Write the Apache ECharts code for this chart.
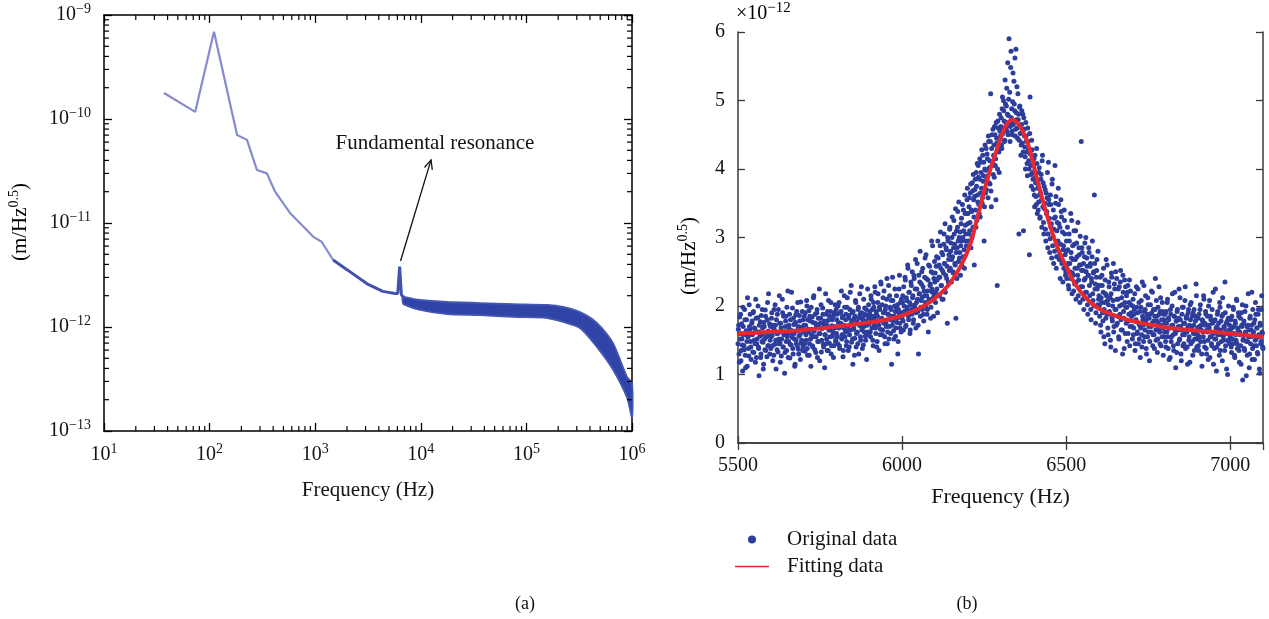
<!DOCTYPE html>
<html><head><meta charset="utf-8">
<script src="https://cdn.jsdelivr.net/npm/echarts@6/dist/echarts.min.js"></script>
<style>html,body{margin:0;padding:0;background:#fff}#c{width:1269px;height:619px}</style>
</head><body><div id="c"></div>
<script>
// ===== (a) Displacement noise spectrum =====
const psdLowFreq = [37, 73, 110, 182, 226, 281, 349, 417, 577, 955, 1150, 1290, 1480];
const psdLowVal  = [1.78e-10, 1.17e-10, 6.9e-10, 7.0e-11, 6.3e-11, 3.23e-11, 3.0e-11, 2.0e-11, 1.25e-11, 7.4e-12, 6.6e-12, 5.5e-12, 4.4e-12];
const psdMidFreq = [1480, 2000, 3100, 4370, 5700, 6050, 6300, 6550, 6760];
const psdMidVal  = [4.4e-12, 3.56e-12, 2.6e-12, 2.2e-12, 2.1e-12, 2.1e-12, 3.8e-12, 2.05e-12, 1.94e-12];
const bandFreq  = [6760, 7080, 9820, 17700, 36400, 74700, 157000, 222000, 322000, 467000, 660000, 897000, 1000000];
const bandUpper = [1.98e-12, 1.94e-12, 1.82e-12, 1.74e-12, 1.70e-12, 1.66e-12, 1.63e-12, 1.56e-12, 1.39e-12, 1.09e-12, 7.0e-13, 3.3e-13, 2.9e-13];
const bandLower = [1.70e-12, 1.63e-12, 1.46e-12, 1.33e-12, 1.30e-12, 1.25e-12, 1.22e-12, 1.12e-12, 9.8e-13, 6.4e-13, 3.9e-13, 2.1e-13, 1.36e-13];
const annotText = 'Fundamental resonance';
const annotTextAt = [13600, 5.87e-11];
const annotArrowFrom = [6430, 4.31e-12];
const annotArrowTo = [12500, 4.04e-11];
const leftXRange = [10, 1e6];
const leftYRange = [1e-13, 1e-9];

// ===== (b) Resonance peak and fit =====
const scatterStartFreqA = 5500;
const scatterStartFreqB = 5501;
const scatterStepHz = 2;
const scatterValsA = [
// 5500
1.45,1.72,1.18,1.60,1.88,1.35,1.52,1.05,1.70,1.42,1.95,1.28,1.62,1.80,1.12,1.55,1.38,2.02,1.66,1.48,1.22,1.75,1.58,1.90,1.32,1.68,1.45,2.10,1.25,1.52,1.83,1.40,0.98,1.62,1.77,1.30,1.58,1.95,1.47,1.15,1.70,1.36,1.85,1.55,1.26,2.05,1.63,1.42,1.74,1.50,
// 5600
1.38,1.82,1.57,1.20,1.68,1.95,1.44,1.72,1.08,1.60,1.88,1.33,1.52,2.15,1.46,1.75,1.27,1.62,1.90,1.40,1.58,1.02,1.70,1.85,1.35,1.55,2.22,1.48,1.66,1.24,1.80,1.43,1.60,1.97,1.30,1.73,1.52,1.15,1.87,1.45,1.64,2.05,1.37,1.56,1.78,1.22,1.69,1.50,1.92,1.41,
// 5700
1.62,1.85,1.34,1.72,1.50,2.00,1.28,1.66,1.93,1.45,1.78,1.12,1.58,1.84,1.40,2.12,1.63,1.36,1.75,1.55,1.90,1.25,1.70,1.48,2.25,1.60,1.82,1.33,1.67,1.97,1.44,1.74,1.10,1.58,1.88,1.52,1.35,1.79,2.08,1.46,1.65,1.92,1.30,1.71,1.56,1.85,1.42,1.68,2.02,1.50,
// 5800
1.60,1.88,1.45,1.76,2.05,1.38,1.70,1.92,1.52,1.83,1.26,1.68,2.15,1.55,1.80,1.42,1.98,1.64,1.35,1.86,1.58,2.20,1.74,1.47,1.90,1.15,1.66,1.82,1.53,2.08,1.40,1.77,1.62,1.95,1.30,1.72,1.88,1.50,2.28,1.65,1.83,1.43,1.70,1.97,1.56,1.78,1.22,1.86,1.62,2.02,
// 5900
1.74,1.92,1.55,2.10,1.68,1.85,1.42,1.98,1.72,2.20,1.60,1.88,1.48,2.05,1.78,1.35,1.95,1.66,2.32,1.82,1.58,2.12,1.75,1.90,1.45,2.00,1.70,2.40,1.62,1.88,1.52,2.15,1.80,1.95,1.15,1.72,2.08,1.64,1.85,2.25,1.56,1.98,1.76,2.02,1.48,1.90,2.45,1.68,1.84,2.10,
// 6000
1.82,2.15,1.65,2.00,1.90,2.38,1.72,2.08,1.95,2.55,1.80,2.20,1.60,2.02,2.30,1.88,2.12,1.75,2.45,1.98,2.25,1.68,2.05,2.62,1.92,1.30,2.18,2.35,1.85,2.08,2.50,1.95,2.28,1.78,2.15,2.70,2.00,2.40,1.88,2.22,1.62,2.10,2.58,2.32,1.98,2.95,2.20,2.48,1.85,2.15,
// 6100
2.35,2.05,2.58,2.25,1.90,2.70,2.42,2.15,2.88,2.55,2.30,2.10,2.75,2.48,3.05,2.62,2.20,2.85,2.40,1.75,2.95,2.68,2.52,3.15,2.80,2.35,3.00,2.72,2.48,3.25,2.90,2.60,1.82,3.10,2.85,3.38,2.65,3.00,2.78,2.45,3.20,2.95,3.48,2.72,3.10,2.55,3.35,3.05,2.88,3.55,
// 6200
3.20,2.95,3.45,3.10,3.65,2.85,3.38,3.80,3.15,3.55,2.60,3.70,3.40,3.95,3.25,3.62,4.05,3.48,3.85,3.30,4.10,3.72,3.50,4.20,3.90,2.95,4.00,3.65,4.30,3.85,4.15,3.58,4.40,4.02,3.78,5.10,3.45,4.50,4.10,3.92,4.35,4.62,4.05,3.55,4.45,2.30,4.70,4.30,3.95,4.55,
// 6300
4.48,4.75,4.30,5.05,4.60,4.85,4.40,5.30,4.68,4.92,4.55,5.55,4.78,5.90,5.12,4.62,5.72,4.88,4.50,5.40,4.70,4.95,5.62,4.58,4.82,5.20,4.45,4.72,3.05,4.90,4.52,4.20,4.65,4.38,4.80,3.10,4.58,4.32,4.00,4.48,4.25,3.90,4.40,4.12,2.75,5.05,4.05,3.75,4.28,3.95,
// 6400
3.70,4.15,3.45,3.88,3.60,4.30,3.35,3.78,3.52,4.02,3.28,3.65,3.92,3.15,4.20,3.80,3.05,3.42,3.70,2.95,3.35,3.58,2.85,4.10,3.48,2.78,3.62,3.15,2.70,3.85,3.02,2.62,3.28,4.05,3.50,2.55,3.10,2.82,3.72,3.20,2.75,2.40,3.55,3.30,2.65,2.35,2.88,3.40,3.05,2.45,
// 6500
2.80,2.40,3.15,2.62,2.25,2.95,2.50,3.35,2.70,2.18,2.88,2.45,3.10,2.32,2.68,2.10,2.92,2.55,3.22,2.38,2.75,2.05,2.60,4.40,2.85,2.28,2.52,1.95,2.72,2.40,3.00,2.20,2.58,1.88,2.45,2.78,2.15,2.62,1.80,2.35,2.95,2.08,2.50,3.62,2.25,1.75,2.42,2.68,2.02,2.30,
// 6600
2.15,1.85,2.42,1.62,2.05,2.30,1.78,2.55,1.95,1.45,2.18,2.68,1.88,2.08,1.58,2.35,1.92,2.12,1.40,2.48,1.82,2.00,2.62,1.70,2.25,1.35,1.95,2.40,1.75,2.10,1.55,2.28,1.88,2.52,1.65,2.02,1.30,2.20,1.82,2.38,1.60,1.98,2.15,1.48,2.30,1.78,2.05,1.42,2.22,1.90,
// 6700
1.85,1.52,2.10,1.68,1.95,1.35,1.78,2.28,1.60,1.90,1.45,2.05,1.72,1.25,1.98,1.58,2.35,1.80,1.48,1.92,1.65,2.15,1.38,1.82,1.55,2.02,1.70,1.20,1.88,1.62,2.22,1.75,1.42,1.95,1.58,1.85,2.40,1.50,1.78,1.32,1.98,1.65,1.88,1.45,2.12,1.72,1.55,1.92,1.28,1.80,
// 6800
1.62,1.88,1.40,1.75,2.05,1.55,1.82,1.22,1.68,1.95,1.48,1.72,2.18,1.58,1.35,1.85,1.65,1.10,1.78,1.92,1.45,1.70,2.25,1.52,1.80,1.30,1.65,1.98,1.42,1.75,1.58,2.08,1.38,1.82,1.62,1.15,1.90,1.50,1.72,2.02,1.45,1.68,1.85,1.28,1.60,1.95,1.52,1.78,2.32,1.40,
// 6900
1.58,1.82,1.35,1.70,1.95,1.48,1.65,1.12,1.78,1.55,2.10,1.40,1.72,1.88,1.30,1.62,1.50,2.00,1.68,1.25,1.85,1.55,1.42,1.75,2.20,1.60,1.38,1.80,1.52,1.05,1.70,1.92,1.45,1.65,2.05,1.35,1.78,1.58,1.20,1.88,1.50,1.68,2.35,1.42,1.75,1.60,1.00,1.82,1.48,1.72,
// 7000
1.55,1.80,1.32,1.68,1.45,1.95,1.60,1.25,1.75,1.50,2.08,1.38,1.65,1.85,1.18,1.58,1.42,1.90,1.70,0.92,1.52,1.78,1.35,1.62,2.00,1.48,1.28,1.72,1.55,1.10,1.82,1.45,1.65,2.20,1.38,1.58,1.75,1.22,1.50,1.88,1.42,1.68,1.30,1.95,1.55,1.02,1.72,1.48,2.15,1.60,1.38
];
const scatterValsB = [
// 5501
1.66,1.30,1.84,1.52,1.20,1.74,1.43,1.98,1.58,1.36,1.80,1.10,1.64,1.48,2.12,1.55,1.27,1.70,1.88,1.40,1.60,1.78,1.33,1.92,1.50,1.67,1.18,1.82,1.45,1.62,2.00,1.38,1.72,1.56,1.25,1.86,1.48,1.68,1.08,1.76,1.52,1.94,1.35,1.60,1.80,1.42,2.18,1.57,1.30,1.70,
// 5601
1.55,1.90,1.42,1.72,1.28,1.65,2.02,1.50,1.80,1.36,1.60,1.95,1.45,1.75,1.18,1.68,1.52,2.10,1.40,1.85,1.62,1.32,1.78,1.48,1.98,1.58,1.25,1.72,1.88,1.44,1.65,2.20,1.54,1.38,1.82,1.60,1.12,1.76,1.50,1.92,1.42,1.70,1.30,1.86,1.58,2.06,1.46,1.66,1.35,1.80,
// 5701
1.72,1.45,1.90,1.58,2.08,1.38,1.80,1.62,1.28,1.85,1.52,1.98,1.66,1.42,1.76,2.15,1.55,1.88,1.32,1.70,1.95,1.48,1.82,1.60,1.20,1.75,2.02,1.50,1.68,1.88,1.40,1.78,1.58,2.18,1.45,1.72,1.92,1.35,1.65,1.85,1.55,2.05,1.42,1.80,1.62,1.25,1.90,1.70,1.48,1.95,
// 5801
1.80,1.55,2.00,1.68,1.42,1.90,1.75,2.22,1.58,1.85,1.35,1.72,1.98,1.62,1.88,1.48,2.12,1.70,1.82,1.40,1.95,1.65,2.30,1.78,1.52,1.92,1.68,1.28,1.85,2.05,1.60,1.75,1.45,1.98,1.82,2.18,1.55,1.70,1.90,1.38,1.78,2.10,1.62,1.88,1.50,1.95,1.72,2.25,1.58,1.82,
// 5901
1.88,1.62,2.15,1.78,1.95,1.50,2.05,1.82,2.28,1.68,1.92,1.40,1.85,2.18,1.72,1.98,1.58,2.35,1.80,2.02,1.65,1.90,2.22,1.55,1.95,1.75,2.10,1.45,1.88,2.30,1.70,1.98,1.60,2.08,1.85,2.42,1.78,1.52,2.00,1.92,1.68,2.15,1.82,1.30,1.95,2.25,1.75,2.05,1.62,1.90,
// 6001
2.05,1.78,2.28,1.92,2.42,1.70,2.12,1.98,2.60,1.85,2.20,2.05,1.65,2.35,1.95,2.50,2.15,1.80,2.40,2.02,2.68,1.90,2.25,2.10,1.72,2.45,2.18,2.80,1.98,2.32,2.12,2.55,1.88,2.22,2.42,2.05,2.75,2.15,1.95,2.38,2.60,2.08,2.30,1.82,2.50,2.25,2.88,2.12,2.40,2.65,
// 6101
2.48,2.20,2.72,2.38,2.95,2.15,2.60,2.42,3.08,2.30,2.78,2.52,2.10,2.90,2.62,3.20,2.45,2.82,2.58,3.00,2.35,2.75,3.12,2.55,2.92,2.68,3.30,2.50,2.85,3.05,2.62,3.42,2.78,2.40,3.15,2.95,3.52,2.70,3.08,2.88,3.28,2.58,3.00,3.40,2.82,3.62,3.18,2.95,3.35,3.72,
// 6201
3.35,3.05,3.58,3.22,3.78,3.40,3.00,3.68,3.92,3.30,3.60,3.85,3.15,3.75,4.08,3.52,3.88,3.35,4.15,3.65,3.95,4.28,3.58,3.82,4.10,3.45,4.35,3.98,3.70,4.22,3.90,4.48,3.80,4.12,4.40,3.68,4.30,4.05,4.58,4.20,3.88,4.50,4.15,4.68,4.38,4.00,4.60,4.25,4.80,4.45,
// 6301
4.62,4.35,4.88,4.52,5.00,4.70,4.42,4.95,4.60,5.18,4.80,4.50,5.02,4.68,4.40,5.48,4.75,4.55,4.98,4.65,5.28,4.85,4.48,5.75,4.72,4.60,5.10,4.80,4.42,4.92,4.62,4.35,4.85,4.55,4.25,4.75,4.48,4.18,4.68,4.40,4.08,4.60,4.30,4.00,4.52,4.22,3.92,4.42,4.12,3.85,
// 6401
3.95,3.62,4.20,3.80,3.48,4.08,3.72,3.40,3.95,3.62,3.30,3.85,3.55,4.12,3.45,3.22,3.75,3.50,3.12,3.65,3.38,3.95,3.05,3.55,3.28,2.98,3.48,3.20,3.78,2.88,3.40,3.12,2.80,3.30,3.60,2.72,3.22,2.95,3.48,2.68,3.15,2.90,3.38,2.62,3.08,2.82,2.55,3.25,2.75,2.50,
// 6501
2.95,2.55,2.82,2.30,3.05,2.62,2.40,2.78,3.25,2.48,2.68,2.22,2.90,2.55,3.10,2.35,2.72,2.45,2.15,2.85,2.60,3.02,2.28,2.52,2.78,2.10,2.62,2.38,2.92,2.20,2.50,2.70,2.02,2.45,2.85,2.30,2.58,1.95,2.40,2.72,2.18,2.48,2.00,2.62,2.32,1.90,2.52,2.25,2.80,2.10,
// 6601
2.00,2.30,1.72,2.12,2.45,1.90,2.20,1.55,2.05,2.38,1.82,2.15,2.60,1.68,2.02,2.28,1.88,1.50,2.18,2.42,1.78,2.08,1.62,2.32,1.95,2.50,1.72,2.10,1.85,2.25,1.52,2.00,2.35,1.80,2.12,1.65,2.45,1.92,1.38,2.05,2.28,1.75,1.98,2.20,1.60,1.88,2.38,1.70,2.02,1.85,
// 6701
1.70,2.00,1.58,1.88,2.18,1.45,1.80,1.98,1.62,2.25,1.75,1.52,1.92,1.68,2.08,1.40,1.85,1.72,2.30,1.55,1.95,1.78,1.30,1.88,2.12,1.62,1.82,1.48,2.02,1.70,1.90,2.20,1.58,1.78,1.38,1.95,1.65,2.08,1.85,1.52,1.75,2.28,1.62,1.92,1.42,1.80,2.05,1.68,1.88,1.55,
// 6801
1.75,1.48,1.92,1.62,2.10,1.38,1.80,1.68,1.25,1.88,1.55,2.00,1.72,1.42,1.85,2.20,1.60,1.78,1.32,1.95,1.65,1.82,1.50,2.12,1.70,1.20,1.88,1.58,1.98,1.45,1.75,2.28,1.62,1.85,1.40,1.70,1.95,1.55,1.18,1.80,2.05,1.65,1.48,1.90,1.72,1.35,1.85,1.60,2.15,1.52,
// 6901
1.68,1.42,1.88,1.55,2.02,1.72,1.30,1.80,1.62,2.15,1.48,1.75,1.92,1.38,1.65,1.85,1.22,1.72,2.08,1.55,1.80,1.45,1.95,1.62,1.15,1.78,1.52,2.25,1.68,1.40,1.88,1.58,1.75,1.28,1.98,1.65,1.48,1.85,2.12,1.55,1.70,1.35,1.90,1.62,1.08,1.78,1.50,2.00,1.65,1.45,
// 7001
1.62,1.40,1.85,1.52,1.98,1.70,1.28,1.78,1.58,2.10,1.45,1.68,1.90,1.35,1.62,1.82,1.15,1.72,2.02,1.50,1.75,1.38,1.92,1.60,0.98,1.70,1.48,2.18,1.65,1.30,1.85,1.55,1.72,1.22,1.95,1.62,1.42,1.80,2.05,1.52,1.68,1.32,1.88,1.58,1.08,1.75,1.45,1.95,1.62,1.40
];
const fitFreq = [5500,5600,5700,5800,5900,5950,6000,6050,6100,6150,6200,6230,6260,6290,6315,6336,6355,6380,6410,6440,6470,6500,6525,6560,6600,6650,6700,6800,6900,7000,7100];
const fitVal  = [1.60,1.62,1.65,1.70,1.76,1.80,1.86,1.96,2.11,2.36,2.80,3.30,3.85,4.30,4.62,4.72,4.65,4.42,3.88,3.35,2.90,2.58,2.34,2.12,1.96,1.86,1.78,1.69,1.64,1.60,1.55];
const rightXRange = [5500, 7100, 500];
const rightYRange = [0, 6, 1];
const legendNames = ['Original data', 'Fitting data'];

// ===== Rendering =====
const FONT = '"Liberation Serif", "Times New Roman", serif';
const TXT = '#141414';
function rich(size, supSize, lift) {
  return {
    b: { fontFamily: FONT, fontSize: size, color: TXT },
    s: { fontFamily: FONT, fontSize: supSize, color: TXT, padding: [0, 0, lift, 0] }
  };
}
function pow10Label(v) {
  const e = Math.round(Math.log10(v));
  return '{b|10}{s|' + (e < 0 ? '\u2212' + (-e) : e) + '}';
}
const minorX = [], minorY = [];
for (let n = 1; n <= 5; n++) for (let k = 2; k <= 9; k++) minorX.push(k * Math.pow(10, n));
for (let n = -13; n <= -10; n++) for (let k = 2; k <= 9; k++) minorY.push(k * Math.pow(10, n));

const axisBlack = { lineStyle: { color: '#000', width: 1.5 } };
const axisGray = { lineStyle: { color: '#3a3a3a', width: 1.5 } };
const tickBlack = { inside: true, length: 8, lineStyle: { color: '#000', width: 1.3 } };
const tickGray = { inside: true, length: 7, lineStyle: { color: '#3a3a3a', width: 1.3 } };

const chart = echarts.init(document.getElementById('c'));
const option = {
  animation: false,
  backgroundColor: '#fff',
  grid: [
    { left: 104, top: 15, width: 528, height: 416 },
    { left: 738, top: 32, width: 525, height: 411 }
  ],
  xAxis: [
    { type: 'log', logBase: 10, gridIndex: 0, min: leftXRange[0], max: leftXRange[1],
      axisLine: axisBlack, axisTick: tickBlack,
      axisLabel: { formatter: pow10Label, rich: rich(20, 14, 12), margin: 11 }, splitLine: { show: false },
      name: 'Frequency (Hz)', nameLocation: 'middle', nameGap: 49,
      nameTextStyle: { fontFamily: FONT, fontSize: 21, color: TXT } },
    { type: 'log', logBase: 10, gridIndex: 0, position: 'top', min: leftXRange[0], max: leftXRange[1],
      axisLine: axisBlack, axisTick: tickBlack, axisLabel: { show: false }, splitLine: { show: false } },
    { type: 'value', gridIndex: 1, min: rightXRange[0], max: rightXRange[1], interval: rightXRange[2],
      axisLine: axisGray, axisTick: tickGray,
      axisLabel: { fontFamily: FONT, fontSize: 20, color: TXT, margin: 13, showMaxLabel: false, formatter: v => String(v) },
      splitLine: { show: false },
      name: 'Frequency (Hz)', nameLocation: 'middle', nameGap: 43,
      nameTextStyle: { fontFamily: FONT, fontSize: 22, color: TXT } },
    { type: 'value', gridIndex: 1, position: 'top', min: rightXRange[0], max: rightXRange[1], interval: rightXRange[2],
      axisLine: axisGray, axisTick: tickGray, axisLabel: { show: false }, splitLine: { show: false } }
  ],
  yAxis: [
    { type: 'log', logBase: 10, gridIndex: 0, min: leftYRange[0], max: leftYRange[1],
      axisLine: axisBlack, axisTick: tickBlack,
      axisLabel: { formatter: pow10Label, rich: rich(20, 14, 12), margin: 13 }, splitLine: { show: false } },
    { type: 'log', logBase: 10, gridIndex: 0, position: 'right', min: leftYRange[0], max: leftYRange[1],
      axisLine: axisBlack, axisTick: tickBlack, axisLabel: { show: false }, splitLine: { show: false } },
    { type: 'value', gridIndex: 1, min: rightYRange[0], max: rightYRange[1], interval: rightYRange[2],
      axisLine: axisGray, axisTick: tickGray,
      axisLabel: { fontFamily: FONT, fontSize: 20, color: TXT, margin: 13 }, splitLine: { show: false } },
    { type: 'value', gridIndex: 1, position: 'right', min: rightYRange[0], max: rightYRange[1], interval: rightYRange[2],
      axisLine: axisGray, axisTick: tickGray, axisLabel: { show: false }, splitLine: { show: false } }
  ],
  legend: {
    orient: 'vertical', left: 730, top: 524, itemWidth: 34, itemHeight: 8, itemGap: 6,
    selectedMode: false,
    data: [
      { name: legendNames[0], icon: 'circle' },
      { name: legendNames[1], icon: 'path://M0,0H34V1.7H0Z' }
    ],
    textStyle: { fontFamily: FONT, fontSize: 21, color: TXT, lineHeight: 20, padding: [0, 0, 0, 13] }
  },
  series: [
    { type: 'custom', xAxisIndex: 0, yAxisIndex: 0, silent: true, z: 5,
      data: minorX.map(v => [v, leftYRange[0]]),
      renderItem: (p, api) => {
        const v = api.value(0);
        const b = api.coord([v, leftYRange[0]]), t = api.coord([v, leftYRange[1]]);
        const st = { stroke: '#000', lineWidth: 1.2 };
        return { type: 'group', children: [
          { type: 'line', shape: { x1: b[0], y1: b[1], x2: b[0], y2: b[1] - 5 }, style: st },
          { type: 'line', shape: { x1: t[0], y1: t[1], x2: t[0], y2: t[1] + 5 }, style: st } ] };
      } },
    { type: 'custom', xAxisIndex: 0, yAxisIndex: 0, silent: true, z: 5,
      data: minorY.map(v => [leftXRange[0], v]),
      renderItem: (p, api) => {
        const v = api.value(1);
        const l = api.coord([leftXRange[0], v]), r = api.coord([leftXRange[1], v]);
        const st = { stroke: '#000', lineWidth: 1.2 };
        return { type: 'group', children: [
          { type: 'line', shape: { x1: l[0], y1: l[1], x2: l[0] + 5, y2: l[1] }, style: st },
          { type: 'line', shape: { x1: r[0], y1: r[1], x2: r[0] - 5, y2: r[1] }, style: st } ] };
      } },
    { name: 'psd-low', type: 'line', xAxisIndex: 0, yAxisIndex: 0, symbol: 'none', silent: true,
      data: psdLowFreq.map((f, i) => [f, psdLowVal[i]]),
      lineStyle: { color: '#868bcf', width: 2.2 } },
    { name: 'psd-mid', type: 'line', xAxisIndex: 0, yAxisIndex: 0, symbol: 'none', silent: true,
      data: psdMidFreq.map((f, i) => [f, psdMidVal[i]]),
      lineStyle: { color: '#4152b0', width: 3 } },
    { name: 'psd-band', type: 'custom', xAxisIndex: 0, yAxisIndex: 0, silent: true,
      data: [[bandFreq[0], bandUpper[0]]],
      renderItem: (p, api) => {
        const pts = [];
        for (let i = 0; i < bandFreq.length; i++) pts.push(api.coord([bandFreq[i], bandUpper[i]]));
        for (let i = bandFreq.length - 1; i >= 0; i--) pts.push(api.coord([bandFreq[i], bandLower[i]]));
        return { type: 'polygon', shape: { points: pts, smooth: 0.25 },
          style: { fill: '#2f44a6', stroke: '#4457b4', lineWidth: 1.8 } };
      } },
    { name: 'annot', type: 'custom', xAxisIndex: 0, yAxisIndex: 0, silent: true,
      data: [annotArrowFrom],
      renderItem: (p, api) => {
        const a = api.coord(annotArrowFrom), b = api.coord(annotArrowTo), t = api.coord(annotTextAt);
        const ang = Math.atan2(b[1] - a[1], b[0] - a[0]);
        const L = 10, w = 0.42;
        const h1 = [b[0] - L * Math.cos(ang - w), b[1] - L * Math.sin(ang - w)];
        const h2 = [b[0] - L * Math.cos(ang + w), b[1] - L * Math.sin(ang + w)];
        const st = { stroke: '#111', lineWidth: 1.3, fill: null };
        return { type: 'group', children: [
          { type: 'line', shape: { x1: a[0], y1: a[1], x2: b[0], y2: b[1] }, style: st },
          { type: 'polyline', shape: { points: [h1, b, h2] }, style: st },
          { type: 'text', x: t[0], y: t[1], style: { text: annotText, fill: TXT,
              font: '21px ' + FONT, align: 'center', verticalAlign: 'middle' } } ] };
      } },
    { name: legendNames[0], type: 'scatter', xAxisIndex: 2, yAxisIndex: 2,
      symbol: 'circle', symbolSize: 5, silent: true,
      itemStyle: { color: '#2d3d9c', opacity: 1 },
      data: scatterValsA.map((v, i) => [scatterStartFreqA + i * scatterStepHz, v])
        .concat(scatterValsB.map((v, i) => [scatterStartFreqB + i * scatterStepHz, v])) },
    { name: legendNames[1], type: 'line', xAxisIndex: 2, yAxisIndex: 2, symbol: 'none', smooth: 0.4,
      silent: true, color: '#e8282f',
      lineStyle: { color: '#e8282f', width: 4 },
      data: fitFreq.map((f, i) => [f, fitVal[i]]) }
  ],
  graphic: [
    { type: 'text', x: 20, y: 222, rotation: Math.PI / 2,
      style: { text: '{b|(m/Hz}{s|0.5}{b|)}', rich: rich(21, 14, 12), align: 'center', verticalAlign: 'middle' } },
    { type: 'text', x: 689, y: 256, rotation: Math.PI / 2,
      style: { text: '{b|(m/Hz}{s|0.5}{b|)}', rich: rich(21, 14, 12), align: 'center', verticalAlign: 'middle' } },
    { type: 'text', x: 736, y: 14,
      style: { text: '{b|\u00d710}{s|\u221212}', rich: rich(20, 15, 12), align: 'left', verticalAlign: 'middle' } },
    { type: 'text', x: 525, y: 604,
      style: { text: '(a)', font: '18px ' + FONT, fill: TXT, align: 'center', verticalAlign: 'middle' } },
    { type: 'text', x: 967, y: 604,
      style: { text: '(b)', font: '18px ' + FONT, fill: TXT, align: 'center', verticalAlign: 'middle' } }
  ]
};
chart.setOption(option);
</script>
</body></html>
